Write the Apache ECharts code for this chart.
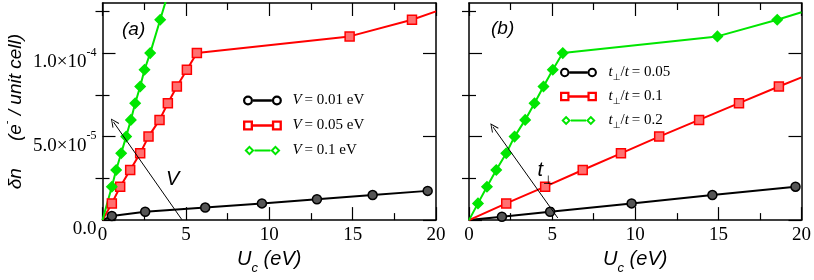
<!DOCTYPE html>
<html><head><meta charset="utf-8">
<script src="https://cdn.jsdelivr.net/npm/echarts@6/dist/echarts.min.js"></script>
<style>html,body{margin:0;padding:0;background:#fff}#c{width:814px;height:280px}</style>
</head><body><div id="c"></div><script>
// ---- axes ----
const xMin = 0, xMax = 20, xInterval = 5;
const yMin = 0, yMax = 1.3e-4;
const yMajorTicks = [0, 5e-5, 1e-4];
const yMinorTicks = [2.5e-5, 7.5e-5, 1.25e-4];

// ---- panel (a) ----
const aNames = ['V = 0.01 eV', 'V = 0.05 eV', 'V = 0.1 eV'];
const aBlackX = [0, 0.56, 2.56, 6.16, 9.56, 12.86, 16.2, 19.5];
const aBlackY = [0, 2.5e-6, 5e-6, 7.5e-6, 1.0e-5, 1.25e-5, 1.5e-5, 1.75e-5];
const aRedX = [0, 0.56, 1.06, 1.66, 2.26, 2.76, 3.42, 3.92, 4.46, 5.06, 5.66, 14.82, 18.56, 20];
const aRedY = [0, 1e-5, 2e-5, 3e-5, 4e-5, 5e-5, 6e-5, 7e-5, 8e-5, 9e-5, 1.0e-4, 1.1e-4, 1.2e-4, 1.25e-4];
const aGreenX = [0, 0.56, 0.82, 1.12, 1.42, 1.7, 1.96, 2.26, 2.52, 2.86, 3.46, 4.06];
const aGreenY = [0, 2e-5, 3e-5, 4e-5, 5e-5, 6e-5, 7e-5, 8e-5, 9e-5, 1.0e-4, 1.2e-4, 1.4e-4];

// ---- panel (b) ----
const bNames = ['t⊥/t = 0.05', 't⊥/t = 0.1', 't⊥/t = 0.2'];
const bBlackX = [0, 1.98, 4.88, 9.78, 14.64, 19.64];
const bBlackY = [0, 2e-6, 5e-6, 1.0e-5, 1.5e-5, 2.0e-5];
const bRedX = [0, 2.24, 4.58, 6.84, 9.14, 11.44, 13.84, 16.24, 18.64, 20];
const bRedY = [0, 1e-5, 2e-5, 3e-5, 4e-5, 5e-5, 6e-5, 7e-5, 8e-5, 8.55e-5];
const bGreenX = [0, 0.54, 1.08, 1.64, 2.24, 2.74, 3.38, 3.94, 4.48, 5.04, 5.64, 14.94, 18.54, 20];
const bGreenY = [0, 1e-5, 2e-5, 3e-5, 4e-5, 5e-5, 6e-5, 7e-5, 8e-5, 9e-5, 1.0e-4, 1.1e-4, 1.2e-4, 1.245e-4];

// ---- annotations (data coordinates) ----
const aArrowFrom = [4.76, 2.7e-7], aArrowTo = [0.66, 5.87e-5], aArrowLabel = [4.21, 2.42e-5];
const bArrowFrom = [5.34, 1.3e-6], bArrowTo = [1.44, 5.58e-5], bArrowLabel = [4.6, 2.74e-5];

const SERIF = 'Liberation Serif', SANS = 'Liberation Sans';
const BLACK = '#000000', RED = '#ff0000', GREEN = '#00e600';

const pair = (xs, ys) => xs.map((x, i) => [x, ys[i]]);
const symFn = (shape) => (v) => (v[0] <= xMin || v[0] >= xMax) ? 'none' : shape;

const arrowPath = 'path://M5,0 L10,10 L9,10.6 L5,2.4 L1,10.6 L0,10 Z';

function mkSeries(name, xs, ys, color, shape, size, fill, xi, yi) {
  return {
    name, type: 'line', xAxisIndex: xi, yAxisIndex: yi,
    data: pair(xs, ys), symbol: symFn(shape), symbolSize: size,
    showAllSymbol: true, clip: true,
    lineStyle: {color, width: 2},
    itemStyle: {color: fill, borderColor: color, borderWidth: 1.5},
    emphasis: {disabled: true}, z: 3
  };
}
function arrowMarks(from, to, labelPos, labelText, rich) {
  return {
    markLine: {
      silent: true, animation: false, symbol: ['none', arrowPath], symbolSize: [8, 9],
      lineStyle: {color: '#000', width: 1, type: 'solid'}, label: {show: false},
      emphasis: {disabled: true},
      data: [[{coord: from}, {coord: to}]]
    },
    markPoint: {
      silent: true, animation: false, symbol: 'circle', symbolSize: 1,
      itemStyle: {color: 'rgba(0,0,0,0)'},
      label: {show: true, position: 'inside', formatter: labelText, color: '#000',
        fontFamily: SANS, fontStyle: 'italic', fontSize: 20, rich: rich},
      data: [{coord: labelPos}]
    }
  };
}

const yFmt = (v) => {
  if (v === 0) return '{m|0.0}';
  const e = Math.floor(Math.log10(v) + 1e-9);
  const m = v / Math.pow(10, e);
  return '{m|' + m.toFixed(1) + '×10}{s|-' + (-e) + '}';
};
const yRich = {
  m: {fontFamily: SERIF, fontSize: 19, lineHeight: 15, color: '#000', padding: [8, 0, 0, 0]},
  s: {fontFamily: SERIF, fontSize: 12, lineHeight: 12, color: '#000', padding: [0, 0, 11, 0]}
};

function xAxes(grid) {
  const base = {
    gridIndex: grid, type: 'value', min: xMin, max: xMax, interval: xInterval,
    axisLine: {show: true, onZero: false, lineStyle: {color: '#000', width: 1.5}},
    axisTick: {show: true, inside: true, length: 13, lineStyle: {color: '#000', width: 1.2}},
    minorTick: {show: true, splitNumber: 2, length: 7, lineStyle: {color: '#000', width: 1.2}},
    splitLine: {show: false}, minorSplitLine: {show: false}
  };
  return [
    Object.assign({}, base, {
      position: 'bottom',
      axisLabel: {show: true, margin: 5, color: '#000', fontFamily: SERIF, fontSize: 19},
      name: '{u|U}{c|c}{u| (eV)}', nameLocation: 'middle', nameGap: 24,
      nameTextStyle: {rich: {
        u: {fontFamily: SANS, fontStyle: 'italic', fontSize: 20, lineHeight: 20, color: '#000', padding: [0, 0, 6, 0]},
        c: {fontFamily: SANS, fontStyle: 'italic', fontSize: 13, lineHeight: 13, color: '#000', padding: [13, 0, 0, 0]}
      }}
    }),
    Object.assign({}, base, {position: 'top', axisLabel: {show: false}})
  ];
}
function yAxes(grid, withLabels) {
  const base = {
    gridIndex: grid, type: 'value', min: yMin, max: yMax,
    splitLine: {show: false}
  };
  const major = (pos) => Object.assign({}, base, {
    position: pos,
    axisLine: {show: true, onZero: false, lineStyle: {color: '#000', width: 1.5}},
    axisTick: {show: true, inside: true, length: 13, customValues: yMajorTicks, lineStyle: {color: '#000', width: 1.2}},
    axisLabel: {show: withLabels && pos === 'left', customValues: yMajorTicks, margin: 6, padding: [10, 0, 0, 0], formatter: yFmt, rich: yRich}
  });
  const minor = (pos) => Object.assign({}, base, {
    position: pos,
    axisLine: {show: false},
    axisTick: {show: true, inside: true, length: 7, customValues: yMinorTicks, lineStyle: {color: '#000', width: 1.2}},
    axisLabel: {show: false}
  });
  const axes = [major('left'), minor('left'), major('right'), minor('right')];
  if (withLabels) {
    Object.assign(axes[0], {
      name: '{d|δn}{p|(e}{s|-}{p| / unit cell)}', nameLocation: 'middle', nameRotate: 90, nameGap: 80,
      nameTextStyle: {rich: {
        d: {fontFamily: SANS, fontStyle: 'italic', fontSize: 19, lineHeight: 19, color: '#000', padding: [5, 27, 0, 0]},
        p: {fontFamily: SANS, fontStyle: 'italic', fontSize: 19, lineHeight: 19, color: '#000', padding: [5, 0, 0, 0]},
        s: {fontFamily: SANS, fontSize: 11, lineHeight: 11, color: '#000', padding: [0, 0, 13, 0]}
      }}
    });
  }
  return axes;
}

const ringPath = 'path://M0.5,5 A4.5,4.5 0 1 1 9.5,5 A4.5,4.5 0 1 1 0.5,5 Z M2.5,5 A2.5,2.5 0 1 0 7.5,5 A2.5,2.5 0 1 0 2.5,5 Z ' +
  'M26.5,5 A4.5,4.5 0 1 1 35.5,5 A4.5,4.5 0 1 1 26.5,5 Z M28.5,5 A2.5,2.5 0 1 0 33.5,5 A2.5,2.5 0 1 0 28.5,5 Z M9.5,3.9 L26.5,3.9 L26.5,6.1 L9.5,6.1 Z';
const squarePath = 'path://M0.5,0.5 L9.5,0.5 L9.5,9.5 L0.5,9.5 Z M2.6,2.6 L2.6,7.4 L7.4,7.4 L7.4,2.6 Z ' +
  'M26.5,0.5 L35.5,0.5 L35.5,9.5 L26.5,9.5 Z M28.6,2.6 L28.6,7.4 L33.4,7.4 L33.4,2.6 Z M9.5,3.9 L26.5,3.9 L26.5,6.1 L9.5,6.1 Z';
const diamondPath = 'path://M0,5 L5,0 L10,5 L5,10 Z M2.8,5 L5,7.2 L7.2,5 L5,2.8 Z ' +
  'M26,5 L31,0 L36,5 L31,10 Z M28.8,5 L31,7.2 L33.2,5 L31,2.8 Z M10,3.9 L26,3.9 L26,6.1 L10,6.1 Z';
const icons = [ringPath, squarePath, diamondPath];
const colors = [BLACK, RED, GREEN];

const legRich = {
  i: {fontFamily: SERIF, fontStyle: 'italic', fontSize: 15, lineHeight: 15, color: '#000'},
  n: {fontFamily: SERIF, fontSize: 15, lineHeight: 15, color: '#000'},
  s: {fontFamily: 'DejaVu Sans', fontSize: 9, lineHeight: 9, color: '#000', padding: [10, 0, 0, 0]}
};
function legendFmt(name) {
  if (name.charAt(0) === 'V') return '{i|V}{n|\u2009= ' + name.slice(4) + '}';
  const val = name.split('= ')[1];
  return '{i|t}{s|⊥}{n|/}{i|t}{n|\u2009= ' + val + '}';
}
function mkLegend(names, left, top, gap, itemH) {
  return {
    orient: 'vertical', left, top, itemGap: gap, itemWidth: 50, itemHeight: itemH,
    selectedMode: false, backgroundColor: 'rgba(0,0,0,0)', padding: 0,
    data: names.map((n, k) => ({name: n, icon: icons[k], itemStyle: {color: colors[k], borderWidth: 0}})),
    formatter: legendFmt,
    textStyle: {fontFamily: SERIF, fontSize: 15, lineHeight: 15, color: '#000', rich: legRich}
  };
}

const sA0 = mkSeries(aNames[0], aBlackX, aBlackY, BLACK, 'circle', 9, '#555555', 0, 0);
Object.assign(sA0, arrowMarks(aArrowFrom, aArrowTo, aArrowLabel, 'V', {}));
const sB0 = mkSeries(bNames[0], bBlackX, bBlackY, BLACK, 'circle', 9, '#555555', 2, 4);
Object.assign(sB0, arrowMarks(bArrowFrom, bArrowTo, bArrowLabel, '{t|t}{s|⊥}', {
  t: {fontFamily: SANS, fontStyle: 'italic', fontSize: 20, lineHeight: 20, color: '#000', padding: [0, 0, 8, 0]},
  s: {fontFamily: 'DejaVu Sans', fontSize: 12, lineHeight: 12, color: '#000', padding: [14, 0, 0, 0]}
}));

const option = {
  animation: false,
  backgroundColor: '#ffffff',
  title: [
    {text: '(a)', left: 117, top: 15, textStyle: {fontFamily: SANS, fontStyle: 'italic', fontWeight: 'normal', fontSize: 19, color: '#000'}},
    {text: '(b)', left: 486, top: 14, textStyle: {fontFamily: SANS, fontStyle: 'italic', fontWeight: 'normal', fontSize: 19, color: '#000'}}
  ],
  legend: [mkLegend(aNames, 243, 93, 10, 10), mkLegend(bNames, 560, 63, 5, 9.5)],
  grid: [
    {left: 102, top: 3, width: 334, height: 224, containLabel: false},
    {left: 469, top: 3, width: 334, height: 224, containLabel: false}
  ],
  xAxis: [...xAxes(0), ...xAxes(1)],
  yAxis: [...yAxes(0, true), ...yAxes(1, false)],
  series: [
    sA0,
    mkSeries(aNames[1], aRedX, aRedY, RED, 'rect', 9, '#ff7070', 0, 0),
    mkSeries(aNames[2], aGreenX, aGreenY, GREEN, 'diamond', 10, GREEN, 0, 0),
    sB0,
    mkSeries(bNames[1], bRedX, bRedY, RED, 'rect', 9, '#ff7070', 2, 4),
    mkSeries(bNames[2], bGreenX, bGreenY, GREEN, 'diamond', 10, GREEN, 2, 4)
  ]
};
const chart = echarts.init(document.getElementById('c'), null, {renderer: 'canvas'});
chart.setOption(option);
</script></body></html>
